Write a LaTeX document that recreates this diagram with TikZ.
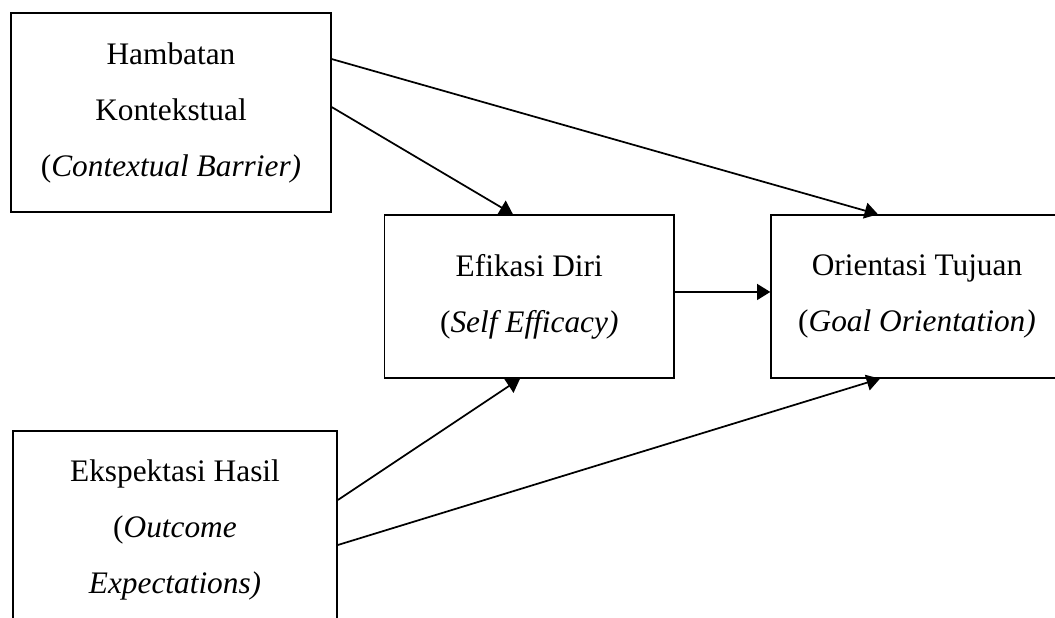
\documentclass[tikz,border=0pt]{standalone}
\usepackage{fontspec}
\setmainfont{Liberation Serif}
\usetikzlibrary{arrows.meta,calc}
\begin{document}
\begin{tikzpicture}[x=0.75pt,y=-0.75pt,
  box/.style={draw,line width=1pt,rectangle,align=center,inner sep=0pt,
    font=\fontsize{23.5}{42}\selectfont},
  conn/.style={line width=1.3pt,-{Triangle[length=10pt,width=12pt]}}]
\clip (0,0) rectangle (1055,617);
\node[box,minimum width=240pt,minimum height=149.25pt] (H) at (171,112.5)
  {Hambatan\\Kontekstual\\(\textit{Contextual Barrier)}};
\node[box,minimum width=217.1pt,minimum height=122.25pt] (E) at (529.25,296.5)
  {Efikasi Diri\\(\textit{Self Efficacy)}};
\node[box,minimum width=219pt,minimum height=122.25pt] (O) at (917,296.5)
  {Orientasi Tujuan\\(\textit{Goal Orientation)}};
\node[box,minimum width=243.2pt,minimum height=148.5pt] (X) at (175,530)
  {Ekspektasi Hasil\\(\textit{Outcome}\\\textit{Expectations)}};
\draw[conn] ([yshift=4.1pt]H.east) -- ([xshift=-12.2pt]E.north);
\draw[conn] ([yshift=40.1pt]H.east) -- ([xshift=-29.25pt]O.north);
\draw[conn] ([yshift=3.4pt]E.east) -- ([yshift=3.4pt]O.west);
\draw[conn] ([yshift=22.5pt]X.east) -- ([xshift=-6.9pt]E.south);
\draw[conn] ([yshift=-11.25pt]X.east) -- ([xshift=-27.75pt]O.south);
\end{tikzpicture}
\end{document}
